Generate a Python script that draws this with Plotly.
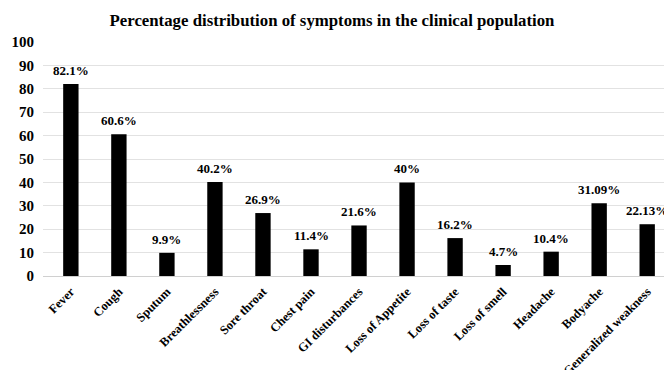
import plotly.graph_objects as go

symptoms = ["Fever", "Cough", "Sputum", "Breathlessness", "Sore throat", "Chest pain",
            "GI disturbances", "Loss of Appetite", "Loss of taste", "Loss of smell",
            "Headache", "Bodyache", "Generalized weakness"]
percentages = [82.1, 60.6, 9.9, 40.2, 26.9, 11.4, 21.6, 40, 16.2, 4.7, 10.4, 31.09, 22.13]
value_labels = ["82.1%", "60.6%", "9.9%", "40.2%", "26.9%", "11.4%", "21.6%", "40%",
                "16.2%", "4.7%", "10.4%", "31.09%", "22.13%"]
y_ticks = list(range(0, 101, 10))

serif = "Liberation Serif, Times New Roman, serif"
positions = list(range(len(symptoms)))

fig = go.Figure(go.Bar(
    x=positions,
    y=percentages,
    width=0.32,
    marker=dict(color="black", line=dict(width=0)),
    hoverinfo="x+y",
))

# value labels sitting a few pixels above each bar
for xi, yi, lab in zip(positions, percentages, value_labels):
    fig.add_annotation(
        x=xi, y=yi, text=f"<b>{lab}</b>", showarrow=False,
        xanchor="center", yanchor="bottom", yshift=4,
        font=dict(family=serif, size=13, color="black"),
    )

fig.update_layout(
    width=664, height=370,
    margin=dict(l=43, r=0, t=42, b=94),
    paper_bgcolor="white", plot_bgcolor="white",
    showlegend=False,
    title=dict(
        text="<b>Percentage distribution of symptoms in the clinical population</b>",
        xref="container", x=0.5, xanchor="center",
        yref="container", y=0.945, yanchor="middle",
        font=dict(family=serif, size=16.8, color="black"),
    ),
)

fig.update_xaxes(
    range=[-0.58, 12.35],
    tickvals=positions,
    ticktext=[f"<b>{s}</b>" for s in symptoms],
    tickangle=-45,
    tickfont=dict(family=serif, size=12.5, color="black"),
    showgrid=False, zeroline=False, showline=False, ticks="",
    ticklabelstandoff=5, automargin=False,
)

fig.update_yaxes(
    range=[0, 100],
    tickvals=y_ticks,
    ticktext=[f"<b>{v}</b>" for v in y_ticks],
    tickfont=dict(family=serif, size=15, color="black"),
    showgrid=True, gridcolor="#e2e2e2", gridwidth=1,
    zeroline=True, zerolinecolor="#d0d0d0", zerolinewidth=1,
    showline=False, ticks="", ticklabelstandoff=8, automargin=False,
)

fig.write_html("out.html")
